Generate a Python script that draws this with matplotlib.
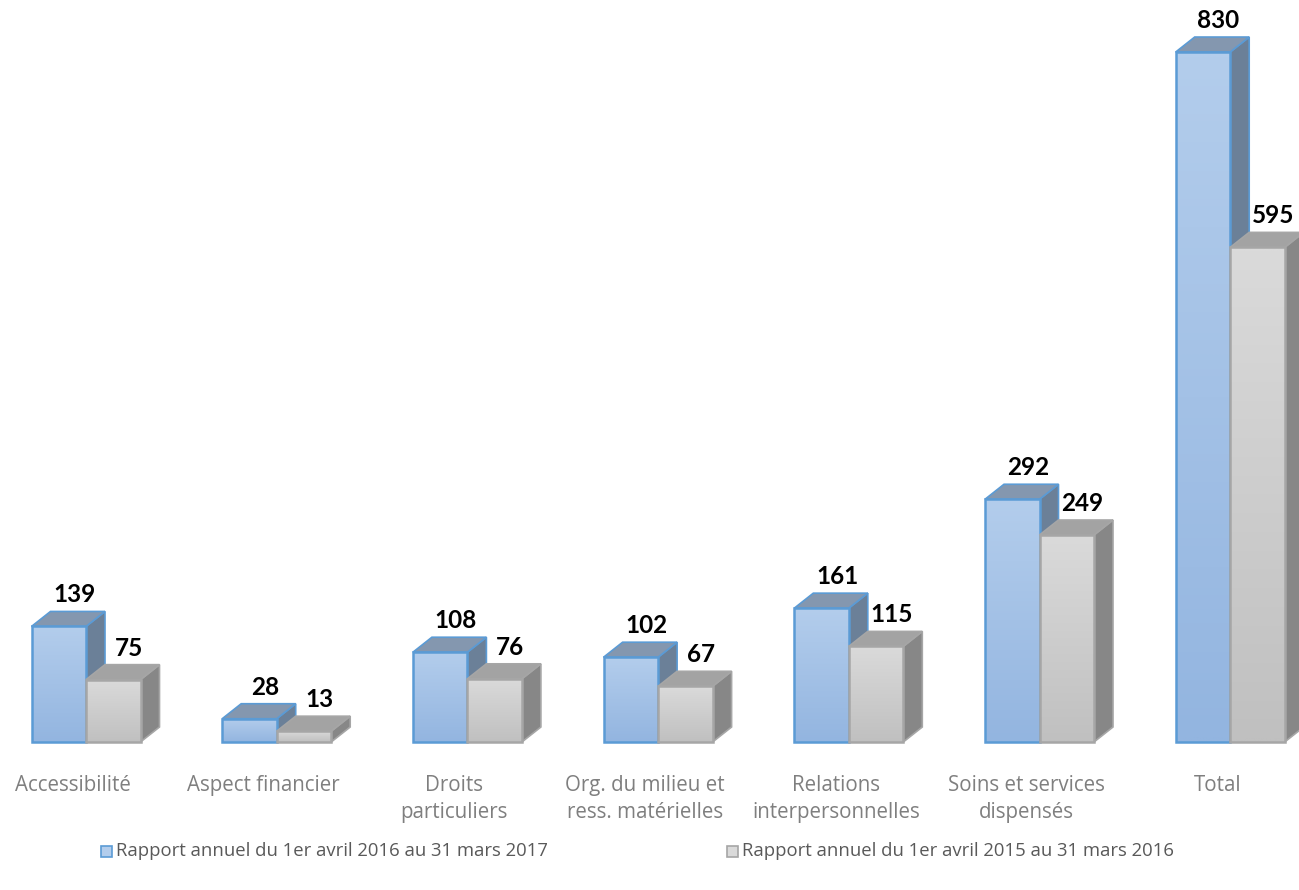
import matplotlib
matplotlib.use("Agg")
import matplotlib.pyplot as plt
import numpy as np
from matplotlib.patches import Polygon, Rectangle

categories = ["Accessibilité", "Aspect financier", "Droits\nparticuliers",
              "Org. du milieu et\nress. matérielles", "Relations\ninterpersonnelles",
              "Soins et services\ndispensés", "Total"]
values_2017 = [139, 28, 108, 102, 161, 292, 830]
values_2016 = [75, 13, 76, 67, 115, 249, 595]
series_names = ["Rapport annuel du 1er avril 2016 au 31 mars 2017",
                "Rapport annuel du 1er avril 2015 au 31 mars 2016"]

plt.rcParams['font.family'] = ['Open Sans', 'DejaVu Sans']

# pixel layout -> data coordinates
px_per_group = 190.7
px_per_unit = 0.8313
W, H = 1299, 890
x0_px, y0_px = 86, 742

fig = plt.figure(figsize=(W / 100, H / 100), dpi=100)
ax = fig.add_axes([0, 0, 1, 1])
ax.set_xlim(-x0_px / px_per_group, (W - x0_px) / px_per_group)
ax.set_ylim((y0_px - H) / px_per_unit, y0_px / px_per_unit)
ax.axis("off")

bw = 54.5 / px_per_group          # bar width
dx = 19 / px_per_group            # depth offset x
dy = 15 / px_per_unit             # depth offset y
lab_dx = 6 / px_per_group         # extra shift of value labels

styles = [
    dict(top=("#B3CDEC", "#93B5E0"), side="#6B8098", roof="#8497AF", edge="#5B9BD5"),
    dict(top=("#DADADA", "#C0C0C0"), side="#878787", roof="#A3A3A3", edge="#A6A6A6"),
]


def bar3d(x, h, st, z):
    side = Polygon([(x + bw, 0), (x + bw + dx, dy), (x + bw + dx, h + dy), (x + bw, h)],
                   closed=True, facecolor=st["side"], edgecolor=st["edge"], lw=1.2, zorder=z)
    ax.add_patch(side)
    roof = Polygon([(x, h), (x + dx, h + dy), (x + bw + dx, h + dy), (x + bw, h)],
                   closed=True, facecolor=st["roof"], edgecolor=st["edge"], lw=1.2, zorder=z)
    ax.add_patch(roof)
    front = Rectangle((x, 0), bw, h, facecolor="none", edgecolor=st["edge"], lw=1.8, zorder=z + 0.2)
    ax.add_patch(front)
    c1 = np.array(matplotlib.colors.to_rgb(st["top"][0]))
    c2 = np.array(matplotlib.colors.to_rgb(st["top"][1]))
    t = np.linspace(0, 1, 64)[:, None]
    grad = (c1 * (1 - t) + c2 * t)[:, None, :]
    im = ax.imshow(grad, extent=(x, x + bw, 0, h), aspect="auto", zorder=z + 0.1,
                   interpolation="bilinear")
    clip = Rectangle((x, 0), bw, h, transform=ax.transData, facecolor="none", edgecolor="none")
    im.set_clip_path(clip)


for i in range(len(categories)):
    bar3d(i - bw, values_2017[i], styles[0], 2 + i * 2)
    bar3d(i, values_2016[i], styles[1], 3 + i * 2)
    ax.text(i - bw / 2 + dx / 2 + lab_dx, values_2017[i] + dy + 6, str(values_2017[i]),
            ha="center", va="bottom", fontsize=17.5, fontweight="bold", family=["Lato"], zorder=20)
    ax.text(i + bw / 2 + dx / 2 + lab_dx, values_2016[i] + dy + 6, str(values_2016[i]),
            ha="center", va="bottom", fontsize=17.5, fontweight="bold", family=["Lato"], zorder=20)
    ax.text(i - 13 / px_per_group, -33 / px_per_unit, categories[i], ha="center", va="top",
            fontsize=14.8, color="#7F7F7F", linespacing=1.35)

# legend
for k, (lx, name) in enumerate(zip([101, 727], series_names)):
    st = styles[k]
    fig.patches.append(Rectangle((lx / W, 1 - 857 / H), 11 / W, 11 / H, transform=fig.transFigure,
                                 facecolor=st["top"][0], edgecolor=st["edge"], lw=1.2))
    fig.text((lx + 15) / W, 1 - 851 / H, name, ha="left", va="center", fontsize=13.3, color="#595959")

fig.savefig("out.png", dpi=100)
